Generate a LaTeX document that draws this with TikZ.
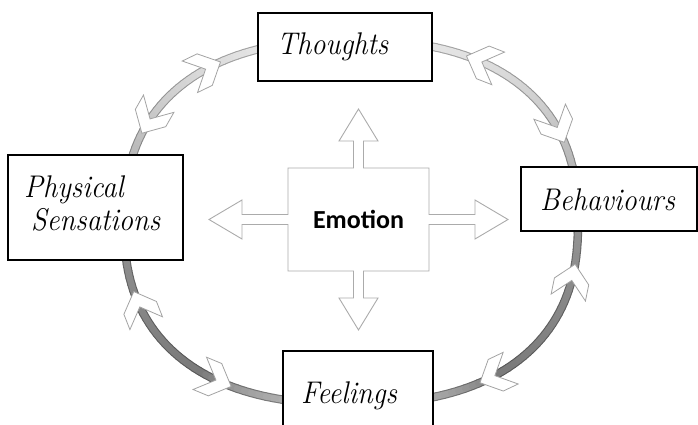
\documentclass[tikz,border=0pt]{standalone}
\usepackage{fontspec}
\usepackage{graphicx}
\newfontfamily\emofont{Carlito}
\definecolor{crossline}{HTML}{ABABAB}
\definecolor{chevline}{HTML}{A3A3A3}
\definecolor{ringtop}{HTML}{E8E8E8}
\definecolor{ringside}{HTML}{A6A6A6}
\definecolor{ringlow}{HTML}{929292}
\definecolor{ringdark}{HTML}{7A7A7A}
\definecolor{ringbot}{HTML}{B6B6B6}
\newcommand\setringcolor[1]{%
  \pgfmathsetmacro\ringS{sin(#1)}%
  \ifdim\ringS pt>0pt
    \pgfmathtruncatemacro\ringP{100*\ringS}%
    \colorlet{segc}{ringtop!\ringP!ringside}%
  \else
    \pgfmathsetmacro\ringA{-\ringS}%
    \ifdim\ringA pt<0.8pt
      \pgfmathtruncatemacro\ringP{100*\ringA/0.8}%
      \colorlet{segc}{ringdark!\ringP!ringlow}%
    \else
      \pgfmathtruncatemacro\ringP{100*(\ringA-0.8)/0.2}%
      \colorlet{segc}{ringbot!\ringP!ringdark}%
    \fi
  \fi}
\newcommand\ringchevron[2]{%
  \pgfmathsetmacro\chxa{sx(#1)}\pgfmathsetmacro\chya{sy(#1)}%
  \pgfmathsetmacro\chxb{sx(#2)}\pgfmathsetmacro\chyb{sy(#2)}%
  \pgfmathsetmacro\chang{atan2(\chya-\chyb,\chxa-\chxb)}%
  \draw[chevstyle, shift={(\chxa,\chya)}, rotate=\chang]
    (0,0) -- (-17.5,17.5) -- (-34,17.5) -- (-16.5,0) -- (-34,-17.5) -- (-17.5,-17.5) -- cycle;}
\newcommand\labtxt[1]{\scalebox{1}[1.1]{#1}}
\begin{document}
\begin{tikzpicture}[x=1pt,y=1pt,
  declare function={
    sx(\u)=351+227*cos(\u)*pow(abs(cos(\u))+0.001,-0.1667);
    sy(\u)=202+182*sin(\u)*pow(abs(sin(\u))+0.001,-0.1667);
  },
  chevstyle/.style={draw=chevline, fill=white, line width=0.8pt, line join=miter},
  crossstyle/.style={draw=crossline, fill=white, line width=0.9pt},
  labelbox/.style={draw=black, fill=white, line width=1.6pt, inner sep=0pt},
  labeltext/.style={anchor=base west, inner sep=0pt, font=\fontsize{28.5}{34}\selectfont\itshape},
  emotext/.style={inner sep=0pt, font=\emofont\bfseries\fontsize{26}{30}\selectfont}
]
\useasboundingbox (0,0) rectangle (698,424);
\clip (0,0) rectangle (698,424);
% ring border pass
\foreach \t in {0,2,...,358}{%
  \setringcolor{\t+1}%
  \draw[line width=8.5pt, line cap=round, segc!72!black] ({sx(\t)},{sy(\t)}) -- ({sx(\t+2)},{sy(\t+2)});
}
% ring fill pass
\foreach \t in {0,2,...,358}{%
  \setringcolor{\t+1}%
  \draw[line width=6.3pt, line cap=round, segc] ({sx(\t)},{sy(\t)}) -- ({sx(\t+2)},{sy(\t+2)});
}
% chevron arrowheads
\ringchevron{121}{125}
\ringchevron{155}{151}
\ringchevron{63.6}{59.6}
\ringchevron{21.8}{25.8}
\ringchevron{350}{346}
\ringchevron{300.5}{304.5}
\ringchevron{242.3}{238.3}
\ringchevron{198.4}{202.4}
% central cross
\draw[crossstyle, shift={(358.5,204.5)}]
  (0,110.5) -- (19.5,78.5) -- (5,78.5) -- (5,51.5) -- (70.5,51.5) -- (70.5,5)
  -- (116.5,5) -- (116.5,19.5) -- (149.5,0) -- (116.5,-19.5) -- (116.5,-5)
  -- (70.5,-5) -- (70.5,-51.5) -- (5,-51.5) -- (5,-78.5) -- (19.5,-78.5)
  -- (0,-110.5) -- (-19.5,-78.5) -- (-5,-78.5) -- (-5,-51.5) -- (-70.5,-51.5)
  -- (-70.5,-5) -- (-116.5,-5) -- (-116.5,-19.5) -- (-149.5,0) -- (-116.5,19.5)
  -- (-116.5,5) -- (-70.5,5) -- (-70.5,51.5) -- (-5,51.5) -- (-5,78.5)
  -- (-19.5,78.5) -- cycle;
\node[emotext] (emotion) at (358.5,204.5) {Emotion};
% boxes
\node[labelbox, minimum width=174pt, minimum height=68pt] (thoughts) at (345,377) {};
\node[labeltext] (thoughtsT) at (277,369) {\labtxt{Thoughts}};
\node[labelbox, minimum width=176pt, minimum height=64pt] (behaviours) at (609,225) {};
\node[labeltext] (behavioursT) at (540,214) {\labtxt{Behaviours}};
\node[labelbox, minimum width=175pt, minimum height=105pt] (physical) at (95.5,216.5) {};
\node[labeltext] (physicalT1) at (24,227) {\labtxt{Physical}};
\node[labeltext] (physicalT2) at (31,194) {\labtxt{Sensations}};
\node[labelbox, minimum width=150pt, minimum height=100pt] (feelings) at (358,23) {};
\node[labeltext] (feelingsT) at (301,21) {\labtxt{Feelings}};
\end{tikzpicture}
\end{document}
